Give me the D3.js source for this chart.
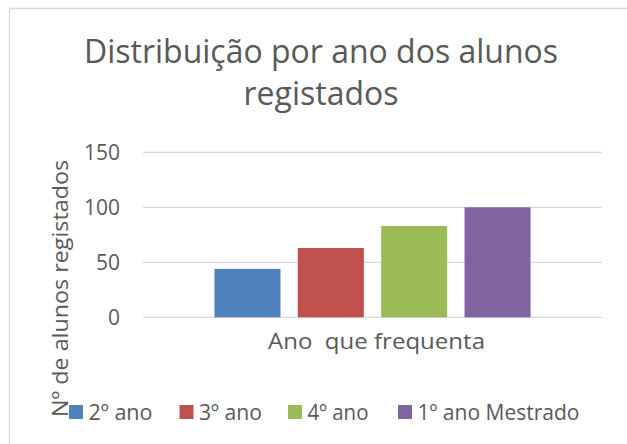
<!DOCTYPE html>
<html><head><meta charset="utf-8">
<script src="https://cdn.jsdelivr.net/npm/d3@7"></script>
<style>html,body{margin:0;padding:0;background:#fff;overflow:hidden}</style>
</head><body>
<script>
const titleLines = ["Distribuição por ano dos alunos", "registados"];
const category = ["Ano  que frequenta"];
const seriesNames = ["2º ano", "3º ano", "4º ano", "1º ano Mestrado"];
const seriesValues = [44, 63, 83, 100];
const seriesColors = ["#4f81bd", "#c0504d", "#9bbb59", "#8064a2"];
const yTicks = [0, 50, 100, 150];
const yTitle = "Nº de alunos registados";

const W = 627, H = 444;
const FONT = "'Open Sans', 'Noto Sans', sans-serif";
const TXT = "#595959";
const svg = d3.select("body").append("svg").attr("width", W).attr("height", H)
  .style("font-family", FONT);

// chart border
svg.append("path").attr("d", "M9.5,444 V8.5 H640").attr("fill", "none")
  .attr("stroke", "#d9d9d9").attr("stroke-width", 1.3);

function squeeze(t, w) {
  const n = t.node().getComputedTextLength();
  t.attr("textLength", w).attr("lengthAdjust", "spacingAndGlyphs");
  return w / n;
}

// title
const t1 = svg.append("text").attr("x", 321).attr("y", 63).attr("text-anchor", "middle")
  .attr("font-size", 32).attr("fill", TXT).text(titleLines[0]);
const ratio = squeeze(t1, 474);
const t2 = svg.append("text").attr("x", 321).attr("y", 105).attr("text-anchor", "middle")
  .attr("font-size", 32).attr("fill", TXT).text(titleLines[1]);
squeeze(t2, t2.node().getComputedTextLength() * ratio);

// scales
const y = d3.scaleLinear().domain([0, 150]).range([317.3, 152.3]);
const x0 = d3.scaleBand().domain(category).range([143, 602]).paddingInner(0).paddingOuter(0.226);
const x1 = d3.scaleBand().domain(seriesNames).range([0, x0.bandwidth()]).paddingInner(0.208).paddingOuter(0);

// gridlines
svg.append("g").selectAll("line").data(yTicks).join("line")
  .attr("x1", 143).attr("x2", 602)
  .attr("y1", d => y(d)).attr("y2", d => y(d))
  .attr("stroke", "#d9d9d9").attr("stroke-width", 1.3);

// y axis labels
const yAxis = d3.axisLeft(y).tickValues(yTicks).tickSize(0).tickPadding(0);
const ga = svg.append("g").attr("transform", "translate(120,0)").call(yAxis);
ga.select(".domain").remove();
ga.selectAll("text").attr("font-size", 21).attr("fill", TXT).attr("font-family", FONT).attr("dy", "0.36em");

// bars
const g = svg.append("g").attr("transform", `translate(${x0(category[0])},0)`);
g.selectAll("rect").data(seriesNames).join("rect")
  .attr("x", d => x1(d)).attr("width", x1.bandwidth())
  .attr("y", (d, i) => y(seriesValues[i]))
  .attr("height", (d, i) => y(0) - y(seriesValues[i]))
  .attr("fill", (d, i) => seriesColors[i]);

// x label
const xl = svg.append("text").attr("x", x0(category[0]) + x0.bandwidth() / 2 + 4).attr("y", 349)
  .attr("text-anchor", "middle").attr("font-size", 22).attr("fill", TXT)
  .style("white-space", "pre").attr("xml:space", "preserve").text(category[0]);
squeeze(xl, 217);

// y title
const yt = svg.append("text").attr("transform", "translate(68,288.5) rotate(-90)")
  .attr("text-anchor", "middle").attr("font-size", 22).attr("fill", TXT).text(yTitle);
squeeze(yt, 257);

// legend
const legX = [69, 179.5, 288, 398];
const legW = [64, 63, 61, 162];
const lg = svg.append("g");
seriesNames.forEach((s, i) => {
  lg.append("rect").attr("x", legX[i]).attr("y", 405).attr("width", 14).attr("height", 14)
    .attr("fill", seriesColors[i]);
  const t = lg.append("text").attr("x", legX[i] + 19.5).attr("y", 419.5)
    .attr("font-size", 22).attr("fill", TXT).text(s);
  squeeze(t, legW[i]);
});
</script>
</body></html>
